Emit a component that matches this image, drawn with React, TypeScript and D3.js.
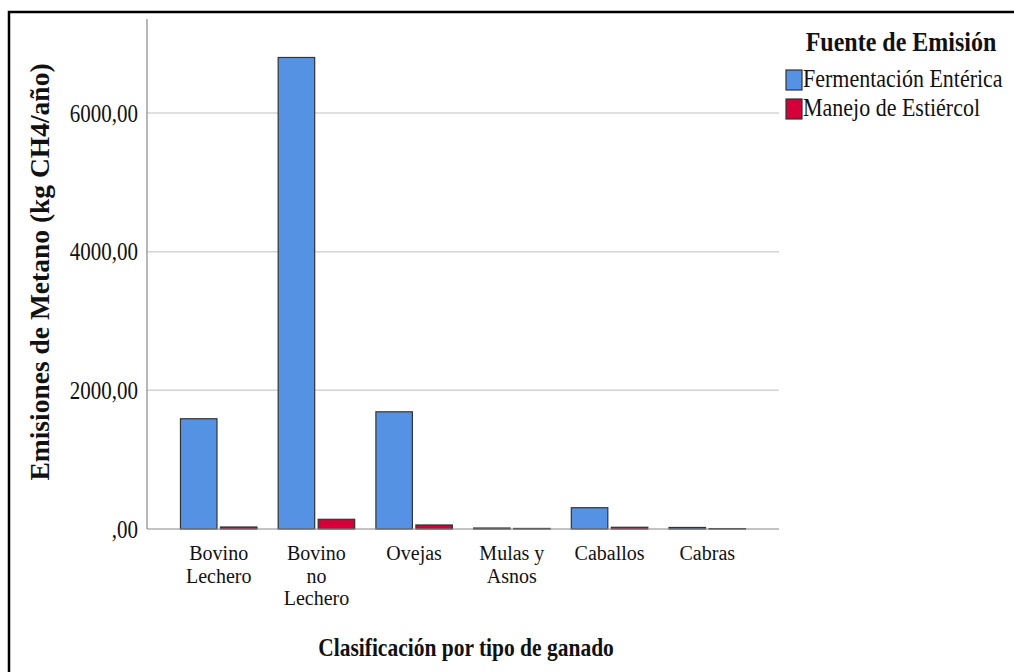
import React from "react";
import * as d3 from "d3";

const categories: string[][] = [
  ["Bovino", "Lechero"],
  ["Bovino", "no", "Lechero"],
  ["Ovejas"],
  ["Mulas y", "Asnos"],
  ["Caballos"],
  ["Cabras"],
];
const categoryKeys = ["Bovino Lechero", "Bovino no Lechero", "Ovejas", "Mulas y Asnos", "Caballos", "Cabras"];
const seriesNames = ["Fermentación Entérica", "Manejo de Estiércol"];
const fermentacion = [1590, 6800, 1690, 14, 307, 22];
const manejo = [29, 140, 58, 8, 25, 6];
const yTicks = [0, 2000, 4000, 6000];
const yTickLabels = [",00", "2000,00", "4000,00", "6000,00"];
const colors = ["#5592e3", "#d3003a"];

const FONT = "'Liberation Serif', 'Times New Roman', serif";
const SY = 1.18;

export default function App() {
  const W = 1014, H = 672;
  const left = 147, right = 779, top = 19, bottom = 529;
  const y = d3.scaleLinear().domain([0, 7355]).range([bottom, top]);
  const x0 = d3.scaleBand().domain(categoryKeys).range([left, right]).paddingInner(0).paddingOuter(0.234);
  const bw = x0.bandwidth();
  const groupW = 76.5;
  const x1 = d3.scaleBand().domain(seriesNames).range([(bw - groupW) / 2, (bw + groupW) / 2]).paddingInner(0.0875).paddingOuter(0);
  const seriesData = [fermentacion, manejo];

  return (
    <svg width={W} height={H} style={{ position: "absolute", left: 0, top: 0, background: "#fff" }} fontFamily={FONT}>
      <rect x={0} y={0} width={W} height={H} fill="#fff" />
      <rect x={9} y={12} width={1200} height={1000} fill="none" stroke="#000" strokeWidth={2.5} />
      {/* gridlines */}
      {yTicks.filter((t) => t > 0).map((t) => (
        <line key={t} x1={left} x2={right} y1={y(t)} y2={y(t)} stroke="#d4d4d4" strokeWidth={1.5} />
      ))}
      {/* bars */}
      {categoryKeys.map((c, i) => (
        <g key={c} transform={`translate(${x0(c)},0)`}>
          {seriesNames.map((s, j) => {
            const v = seriesData[j][i];
            return (
              <rect
                key={s}
                x={x1(s)}
                y={y(v)}
                width={x1.bandwidth()}
                height={bottom - y(v)}
                fill={colors[j]}
                stroke="#333"
                strokeWidth={1.2}
              />
            );
          })}
        </g>
      ))}
      {/* axes */}
      <line x1={left} x2={left} y1={top} y2={bottom} stroke="#888" strokeWidth={1.2} />
      <line x1={left} x2={right} y1={bottom} y2={bottom} stroke="#888" strokeWidth={1.2} />
      {yTicks.map((t, i) => (
        <text key={t} transform={`translate(138,${y(t)}) scale(1,${SY})`} dy="0.35em" textAnchor="end" fontSize={21} fill="#111">
          {yTickLabels[i]}
        </text>
      ))}
      {categoryKeys.map((c, i) => (
        <text key={c} x={(x0(c) as number) + bw / 2} y={560} textAnchor="middle" fontSize={20} fill="#111">
          {categories[i].map((line, k) => (
            <tspan key={k} x={(x0(c) as number) + bw / 2} dy={k === 0 ? 0 : 22.5}>
              {line}
            </tspan>
          ))}
        </text>
      ))}
      <text transform={`translate(466,656) scale(1,${SY})`} textAnchor="middle" fontSize={21.5} fontWeight="bold" fill="#111">
        Clasificación por tipo de ganado
      </text>
      <text transform={`translate(49,272) rotate(-90)`} textAnchor="middle" fontSize={27.5} fontWeight="bold" fill="#111">
        Emisiones de Metano (kg CH4/año)
      </text>
      {/* legend */}
      <text transform={`translate(901,51) scale(1,${SY})`} textAnchor="middle" fontSize={24} fontWeight="bold" fill="#111">
        Fuente de Emisión
      </text>
      {seriesNames.map((s, j) => (
        <g key={s} transform={`translate(786,${70 + j * 29})`}>
          <rect x={0} y={0} width={16} height={20} fill={colors[j]} stroke="#333" strokeWidth={1.2} />
          <text transform={`translate(17,17) scale(1,${SY})`} fontSize={22} fill="#111">
            {s}
          </text>
        </g>
      ))}
    </svg>
  );
}
